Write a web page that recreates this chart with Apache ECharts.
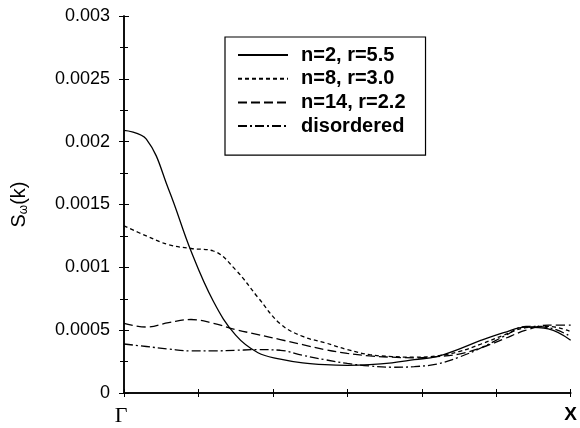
<!DOCTYPE html>
<html>
<head>
<meta charset="utf-8">
<script src="https://cdn.jsdelivr.net/npm/echarts@6/dist/echarts.min.js"></script>
<style>
  html, body { margin: 0; padding: 0; background: #fff; }
  #chart { width: 580px; height: 428px; }
</style>
</head>
<body>
<div id="chart"></div>
<script>
// k along the Γ–X line, 0 = Γ, 1 = X
const kPoints = [0, 0.05, 0.1, 0.15, 0.2, 0.25, 0.3, 0.35, 0.4, 0.45, 0.5,
  0.55, 0.6, 0.65, 0.7, 0.75, 0.8, 0.85, 0.9, 0.95, 1];

const seriesNames = ['n=2, r=5.5', 'n=8, r=3.0', 'n=14, r=2.2', 'disordered'];

// S_w(k) values
const n2 = [0.00209, 0.00202, 0.00162, 0.00113, 0.00073, 0.00046, 0.00032, 0.00027, 0.00024, 0.000225, 0.00022,
  0.000225, 0.00024, 0.000265, 0.00029, 0.00035, 0.00042, 0.00048, 0.000525, 0.00051, 0.00042];
const n8 = [0.00133, 0.00125, 0.00118, 0.00115, 0.00113, 0.00098, 0.00076, 0.00055, 0.00045, 0.0004, 0.000345,
  0.000305, 0.00029, 0.000285, 0.000295, 0.00033, 0.00039, 0.00046, 0.00052, 0.00053, 0.00049];
const n14 = [0.000555, 0.000525, 0.00056, 0.000585, 0.000555, 0.000505, 0.000465, 0.000425, 0.000385, 0.000345, 0.000315,
  0.000295, 0.000285, 0.00028, 0.00029, 0.00031, 0.00036, 0.00043, 0.0005, 0.00054, 0.00054];
const disordered = [0.00039, 0.00037, 0.00035, 0.000335, 0.000335, 0.00034, 0.000345, 0.00034, 0.0003, 0.000265, 0.000235,
  0.000215, 0.000205, 0.00021, 0.00023, 0.000285, 0.00036, 0.00045, 0.00053, 0.00052, 0.00045];

const yTicks = [0, 0.0005, 0.001, 0.0015, 0.002, 0.0025, 0.003];

const dashStyles = ['solid', [4, 3], [9, 4], [9, 3, 2, 3]];
const allValues = [n2, n8, n14, disordered];

const pairs = (ys) => kPoints.map((k, i) => [k, ys[i]]);

const chart = echarts.init(document.getElementById('chart'), null, { renderer: 'canvas' });

const sans = 'Liberation Sans, Arial, sans-serif';
const axisLine = { show: true, lineStyle: { color: '#000', width: 1.5 } };

chart.setOption({
  animation: false,
  backgroundColor: '#fff',
  grid: { left: 124, right: 5, top: 16, bottom: 35 },
  legend: {
    left: 225,
    top: 37,
    orient: 'vertical',
    itemWidth: 50,
    itemHeight: 20,
    itemGap: 3.7,
    padding: [8, 20, 19, 12],
    borderColor: '#000',
    borderWidth: 1.2,
    data: seriesNames,
    itemStyle: { color: 'transparent', borderWidth: 0, opacity: 0 },
    textStyle: {
      fontFamily: sans,
      fontWeight: 'bold',
      fontSize: 20,
      color: '#000',
      padding: [0, 0, 0, 8]
    }
  },
  xAxis: [{
    type: 'value',
    min: 0,
    max: 1,
    interval: 1 / 6,
    axisLine: axisLine,
    axisTick: { inside: true, length: 4, lineStyle: { color: '#000' } },
    splitLine: { show: false },
    axisLabel: {
      margin: 12,
      formatter: (v) => {
        if (v === 0) return '{g|Γ}';
        if (Math.abs(v - 1) < 1e-6) return '{x|X}';
        return '';
      },
      rich: {
        g: { fontFamily: 'Liberation Serif, DejaVu Serif, serif', fontSize: 22, color: '#000', padding: [0, 6, 0, 0] },
        x: { fontFamily: sans, fontWeight: 'bold', fontSize: 19, color: '#000' }
      }
    }
  }, {
    type: 'value',
    position: 'top',
    min: 0,
    max: 1,
    interval: 1 / 6,
    axisLine: axisLine,
    axisTick: { inside: true, length: 4, lineStyle: { color: '#000' } },
    axisLabel: { show: false },
    splitLine: { show: false }
  }],
  yAxis: [{
    type: 'value',
    min: yTicks[0],
    max: yTicks[yTicks.length - 1],
    interval: 0.0005,
    axisLine: axisLine,
    axisTick: { inside: true, length: 5, lineStyle: { color: '#000' } },
    minorTick: { show: true, splitNumber: 2, length: 4, lineStyle: { color: '#000' } },
    splitLine: { show: false },
    axisLabel: {
      margin: 14,
      fontFamily: sans,
      fontSize: 18,
      color: '#000',
      formatter: (v) => String(parseFloat(v.toPrecision(6)))
    },
    name: '{s|S}{w|ω}{k|(k)}',
    nameLocation: 'middle',
    nameGap: 94,
    nameRotate: 90,
    nameTextStyle: {
      rich: {
        s: { fontFamily: sans, fontSize: 20, color: '#000' },
        w: { fontFamily: sans, fontSize: 12, color: '#000', verticalAlign: 'bottom', padding: [10, 0, 0, 0] },
        k: { fontFamily: sans, fontSize: 20, color: '#000' }
      }
    }
  }, {
    type: 'value',
    position: 'right',
    min: yTicks[0],
    max: yTicks[yTicks.length - 1],
    interval: 0.0005,
    axisLine: axisLine,
    axisTick: { inside: true, length: 5, lineStyle: { color: '#000' } },
    minorTick: { show: true, splitNumber: 2, length: 4, lineStyle: { color: '#000' } },
    splitLine: { show: false },
    axisLabel: { show: false }
  }],
  series: seriesNames.map((name, i) => ({
    name: name,
    type: 'line',
    data: pairs(allValues[i]),
    smooth: 0.4,
    symbol: 'none',
    color: '#000',
    lineStyle: { color: '#000', width: 1.3, type: dashStyles[i] }
  }))
});
</script>
</body>
</html>
